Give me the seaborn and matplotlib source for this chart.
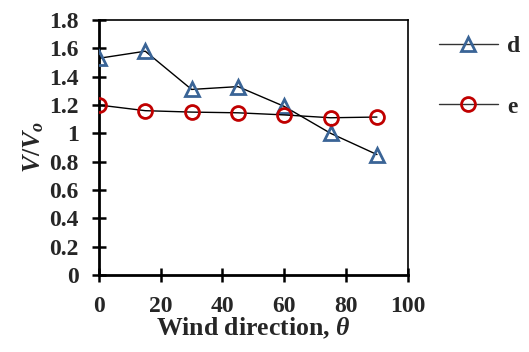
import matplotlib
matplotlib.use("Agg")
import matplotlib.pyplot as plt
import seaborn as sns
import pandas as pd
from matplotlib.lines import Line2D

angles = [0, 15, 30, 45, 60, 75, 90]
d_vals = [1.53, 1.58, 1.31, 1.33, 1.19, 1.00, 0.85]
e_vals = [1.20, 1.16, 1.15, 1.145, 1.13, 1.11, 1.115]
series_names = ["d", "e"]
x_ticks = [0, 20, 40, 60, 80, 100]
y_ticks = [0, 0.2, 0.4, 0.6, 0.8, 1, 1.2, 1.4, 1.6, 1.8]
y_labels = ["0", "0.2", "0.4", "0.6", "0.8", "1", "1.2", "1.4", "1.6", "1.8"]

df = pd.DataFrame({
    "angle": angles * 2,
    "value": d_vals + e_vals,
    "series": [series_names[0]] * len(angles) + [series_names[1]] * len(angles),
})

sns.set_style("white")
plt.rcParams["font.family"] = ["Liberation Serif", "DejaVu Serif"]
plt.rcParams["mathtext.fontset"] = "custom"
plt.rcParams["mathtext.it"] = "Liberation Serif:italic:bold"
plt.rcParams["mathtext.rm"] = "Liberation Serif:bold"
plt.rcParams["mathtext.bf"] = "Liberation Serif:bold"

fig = plt.figure(figsize=(5.29, 3.52), dpi=100)
ax = fig.add_axes([0.187, 0.219, 0.584, 0.724])

styles = {
    "d": dict(marker="^", mec="#3A6496"),
    "e": dict(marker="o", mec="#C00000"),
}
for name in series_names:
    sub = df[df.series == name]
    sns.lineplot(data=sub, x="angle", y="value", ax=ax, color="black", lw=1,
                 marker=styles[name]["marker"], markersize=10, mfc="none",
                 mec=styles[name]["mec"], mew=2, zorder=3, legend=False)

ax.set_xlim(0, 100)
ax.set_ylim(0, 1.8)
ax.set_xticks(x_ticks)
ax.set_xticklabels([str(t) for t in x_ticks])
ax.set_yticks(y_ticks)
ax.set_yticklabels(y_labels)
ax.tick_params(axis="both", direction="inout", length=10, width=1.8, labelsize=17,
               bottom=True, left=True, top=False, right=False, color="black")
ax.tick_params(axis="y", pad=9.5)
ax.tick_params(axis="x", pad=10.5)
for lab in ax.get_xticklabels() + ax.get_yticklabels():
    lab.set_fontweight("bold")
for s in ["left", "bottom"]:
    ax.spines[s].set_linewidth(2)
    ax.spines[s].set_color("black")
for s in ["top", "right"]:
    ax.spines[s].set_linewidth(1.2)
    ax.spines[s].set_color("black")

ax.set_xlabel(r"Wind direction, $\theta$", fontsize=18.5, fontweight="bold", labelpad=-1.5)
ax.set_ylabel(r"$V/V_o$", fontsize=18.5, labelpad=2)

handles = [
    Line2D([], [], color="#333333", lw=1, marker="^", markersize=10, mfc="none", mec="#3A6496", mew=2),
    Line2D([], [], color="#333333", lw=1, marker="o", markersize=10, mfc="none", mec="#C00000", mew=2),
]
leg = fig.legend(handles, series_names, loc="upper left", bbox_to_anchor=(0.789, 0.96),
                 frameon=False, handlelength=2.5, labelspacing=1.66, handletextpad=0.4,
                 prop={"family": "Liberation Serif", "weight": "bold", "size": 17})

fig.savefig("out.png", dpi=100)
